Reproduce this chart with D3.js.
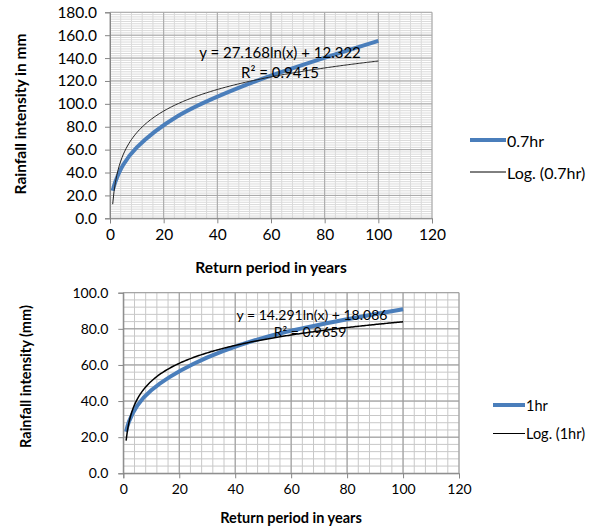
<!DOCTYPE html>
<html>
<head>
<meta charset="utf-8">
<script src="https://cdn.jsdelivr.net/npm/d3@7"></script>
<style>
  body { margin: 0; background: #fff; }
  svg text { font-family: Lato, "Open Sans", sans-serif; fill: #000; }
</style>
</head>
<body>
<script>
// return periods (years) of the plotted points
var periods = [1, 2, 5, 10, 25, 50, 100];
// rainfall intensity
var intensity07 = [24, 32, 47, 62, 89, 116, 155];
var intensity1 = [23, 28.5, 37.5, 46, 60.5, 75, 90.8];
// logarithmic trend coefficients shown on the chart: y = a ln(x) + b
var trend07 = [27.168, 12.322];
var trend1 = [14.291, 18.086];
var r2_07 = "0.9415", r2_1 = "0.9659";
var xTicks = [0, 20, 40, 60, 80, 100, 120];
var yTicks07 = [0, 20, 40, 60, 80, 100, 120, 140, 160, 180];
var yTicks1 = [0, 20, 40, 60, 80, 100];

var svg = d3.select("body").append("svg")
  .attr("width", 597)
  .attr("height", 527);

function draw(o) {
  var x = d3.scaleLinear().domain([0, 120]).range([o.left, o.right]);
  var y = d3.scaleLinear().domain([0, o.ymax]).range([o.bottom, o.top]);
  var g = svg.append("g");

  // minor grid
  g.append("g").selectAll("line")
    .data(d3.range(0, 120 + 0.001, 4))
    .enter().append("line")
    .attr("x1", function(d) { return x(d) }).attr("x2", function(d) { return x(d) })
    .attr("y1", o.top).attr("y2", o.bottom)
    .attr("stroke", o.minorColor).attr("stroke-width", 1);
  g.append("g").selectAll("line")
    .data(d3.range(0, o.ymax + 0.001, o.yMinor))
    .enter().append("line")
    .attr("y1", function(d) { return y(d) }).attr("y2", function(d) { return y(d) })
    .attr("x1", o.left).attr("x2", o.right)
    .attr("stroke", o.minorColor).attr("stroke-width", 1);
  // major grid
  g.append("g").selectAll("line")
    .data(xTicks)
    .enter().append("line")
    .attr("x1", function(d) { return x(d) }).attr("x2", function(d) { return x(d) })
    .attr("y1", o.top).attr("y2", o.bottom)
    .attr("stroke", o.majorColor).attr("stroke-width", 1);
  g.append("g").selectAll("line")
    .data(o.yTicks)
    .enter().append("line")
    .attr("y1", function(d) { return y(d) }).attr("y2", function(d) { return y(d) })
    .attr("x1", o.left).attr("x2", o.right)
    .attr("stroke", o.majorColor).attr("stroke-width", 1);

  // axes
  var xAxis = g.append("g")
    .attr("transform", "translate(0," + o.bottom + ")")
    .call(d3.axisBottom(x).tickValues(xTicks).tickSize(5).tickPadding(6).tickFormat(d3.format("d")));
  var yAxis = g.append("g")
    .attr("transform", "translate(" + o.left + ",0)")
    .call(d3.axisLeft(y).tickValues(o.yTicks).tickSize(5).tickPadding(o.yPad).tickFormat(d3.format(".1f")));
  [xAxis, yAxis].forEach(function(a) {
    a.select(".domain").attr("stroke", "#868686");
    a.selectAll(".tick line").attr("stroke", "#868686");
    a.selectAll(".tick text").style("font-size", o.tickSize + "px").attr("fill", "#000");
  });

  // data series, smoothed
  var line = d3.line()
    .x(function(d) { return x(d[0]) })
    .y(function(d) { return y(d[1]) })
    .curve(d3.curveCatmullRom.alpha(0.5));
  var pts = periods.map(function(p, i) { return [p, o.values[i]] });
  g.append("path").datum(pts)
    .attr("d", line)
    .attr("fill", "none")
    .attr("stroke", "#4a7ebb")
    .attr("stroke-width", 4);

  // log trendline from shown coefficients
  var tr = d3.range(1, 100.01, 0.5).map(function(t) { return [t, o.trend[0] * Math.log(t) + o.trend[1]] });
  g.append("path").datum(tr)
    .attr("d", d3.line().x(function(d) { return x(d[0]) }).y(function(d) { return y(d[1]) }))
    .attr("fill", "none")
    .attr("stroke", o.trendColor)
    .attr("stroke-width", o.trendWidth);

  // equation labels
  g.append("text")
    .attr("x", o.eq[0]).attr("y", o.eq[1])
    .attr("text-anchor", "middle").attr("dominant-baseline", "central")
    .style("font-size", o.eqSize + "px")
    .text("y = " + o.trend[0] + "ln(x) + " + o.trend[1]);
  g.append("text")
    .attr("x", o.r2[0]).attr("y", o.r2[1])
    .attr("text-anchor", "middle").attr("dominant-baseline", "central")
    .style("font-size", o.eqSize + "px")
    .text("R² = " + o.r2text);

  // axis titles
  g.append("text")
    .attr("transform", "translate(" + o.ytitle[0] + "," + o.ytitle[1] + ")rotate(-90)")
    .attr("text-anchor", "middle").attr("dominant-baseline", "central")
    .style("font-size", o.ytitleSize + "px").style("font-weight", "bold")
    .text(o.ytitleText);
  g.append("text")
    .attr("x", o.xtitle[0]).attr("y", o.xtitle[1])
    .attr("text-anchor", "middle").attr("dominant-baseline", "central")
    .style("font-size", o.xtitleSize + "px").style("font-weight", "bold")
    .text("Return period in years");

  // legend
  var lg = g.append("g").attr("transform", "translate(" + o.legend[0] + "," + o.legend[1] + ")");
  lg.append("line").attr("x1", 0).attr("x2", o.legendLen).attr("y1", 0).attr("y2", 0)
    .attr("stroke", "#4a7ebb").attr("stroke-width", 4);
  lg.append("text").attr("x", o.legendLen + 1).attr("y", 0)
    .attr("dominant-baseline", "central").style("font-size", o.legendSize + "px")
    .text(o.name);
  lg.append("line").attr("x1", 0).attr("x2", o.legendLen).attr("y1", o.legendGap).attr("y2", o.legendGap)
    .attr("stroke", "#000").attr("stroke-width", 1);
  lg.append("text").attr("x", o.legendLen + 1).attr("y", o.legendGap)
    .attr("dominant-baseline", "central").style("font-size", o.legendSize + "px")
    .text("Log. (" + o.name + ")");
}

draw({
  left: 110, right: 432, top: 12.3, bottom: 218.3, ymax: 180, yMinor: 2, yPad: 8,
  yTicks: yTicks07, values: intensity07, trend: trend07, r2text: r2_07,
  minorColor: "#dadada", majorColor: "#a6a6a6", tickSize: 15.5,
  trendWidth: 1, trendColor: "#222",
  eq: [280, 51.5], r2: [280, 71.5], eqSize: 15,
  ytitle: [20, 114], ytitleText: "Rainfall intensity in mm", ytitleSize: 15.5,
  xtitle: [271, 266.5], xtitleSize: 15.5,
  legend: [470, 140], legendLen: 36, legendGap: 32, name: "0.7hr", legendSize: 16
});

draw({
  left: 123.3, right: 459, top: 292.7, bottom: 473.3, ymax: 100, yMinor: 4, yPad: 10,
  yTicks: yTicks1, values: intensity1, trend: trend1, r2text: r2_1,
  minorColor: "#c8c8c8", majorColor: "#9a9a9a", tickSize: 14,
  trendWidth: 1.5, trendColor: "#000",
  eq: [312, 314.5], r2: [310, 331.5], eqSize: 14,
  ytitle: [25, 376.5], ytitleText: "Rainfall intensity (mm)", ytitleSize: 14.5,
  xtitle: [291, 517], xtitleSize: 14.5,
  legend: [493, 405], legendLen: 32, legendGap: 28.5, name: "1hr", legendSize: 14.5
});
</script>
</body>
</html>
